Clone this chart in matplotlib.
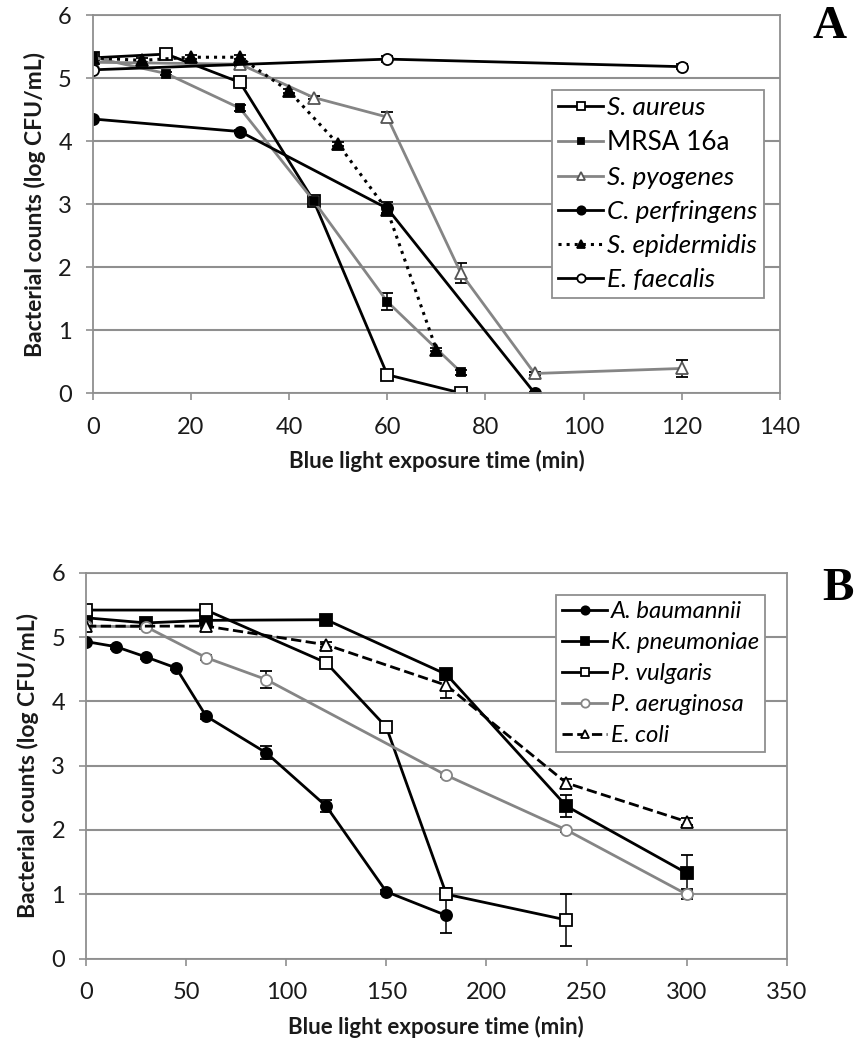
import matplotlib
matplotlib.use('Agg')
import matplotlib.pyplot as plt

plt.rcParams['font.family'] = ['Lato', 'DejaVu Sans']

# ---- panel A (gram positive) ----
sa_x = [0, 15, 30, 45, 60, 75]
sa_y = [5.32, 5.38, 4.93, 3.05, 0.29, 0.0]
sa_e = [0.03, 0.03, 0.04, 0.05, 0.05, 0.02]

mrsa_x = [0, 15, 30, 45, 60, 75]
mrsa_y = [5.33, 5.07, 4.52, 3.05, 1.45, 0.33]
mrsa_e = [0.03, 0.03, 0.05, 0.05, 0.13, 0.04]

spy_x = [0, 30, 45, 60, 75, 90, 120]
spy_y = [5.25, 5.22, 4.69, 4.38, 1.9, 0.31, 0.39]
spy_e = [0.03, 0.03, 0.03, 0.08, 0.16, 0.03, 0.13]

cpe_x = [0, 30, 60, 90]
cpe_y = [4.35, 4.15, 2.93, 0.0]
cpe_e = [0.03, 0.03, 0.1, 0.02]

sep_x = [0, 10, 20, 30, 40, 50, 60, 70]
sep_y = [5.32, 5.28, 5.33, 5.33, 4.79, 3.95, 2.9, 0.69]
sep_e = [0.03, 0.03, 0.03, 0.03, 0.03, 0.03, 0.05, 0.03]

efa_x = [0, 60, 120]
efa_y = [5.13, 5.3, 5.18]
efa_e = [0.03, 0.05, 0.04]

# ---- panel B (gram negative) ----
ab_x = [0, 15, 30, 45, 60, 90, 120, 150, 180]
ab_y = [4.93, 4.85, 4.69, 4.52, 3.77, 3.2, 2.37, 1.04, 0.67]
ab_e = [0.03, 0.03, 0.03, 0.03, 0.04, 0.1, 0.09, 0.03, 0.28]

kp_x = [0, 30, 60, 120, 180, 240, 300]
kp_y = [5.3, 5.22, 5.26, 5.27, 4.42, 2.37, 1.33]
kp_e = [0.03, 0.03, 0.03, 0.03, 0.09, 0.17, 0.28]

pv_x = [0, 60, 120, 150, 180, 240]
pv_y = [5.42, 5.42, 4.6, 3.6, 1.0, 0.6]
pv_e = [0.03, 0.03, 0.03, 0.03, 0.09, 0.41]

pa_x = [0, 30, 60, 90, 180, 240, 300]
pa_y = [5.17, 5.16, 4.68, 4.34, 2.85, 2.0, 1.0]
pa_e = [0.03, 0.03, 0.04, 0.13, 0.03, 0.03, 0.08]

ec_x = [0, 60, 120, 180, 240, 300]
ec_y = [5.17, 5.17, 4.88, 4.25, 2.73, 2.13]
ec_e = [0.03, 0.03, 0.04, 0.2, 0.06, 0.06]

gray = '#858585'
gridc = '#8f8f8f'

fig = plt.figure(figsize=(8.61, 10.5), dpi=100)
axA = fig.add_axes([0.1077, 0.6257, 0.7983, 0.36])
axB = fig.add_axes([0.0999, 0.0871, 0.8138, 0.3674])


def series(ax, x, y, e, label, color, marker, ms, mfc, mec, ls='-', lw=2.0, ecol='black'):
    ax.errorbar(x, y, yerr=e, color=color, ls=ls, lw=lw, marker=marker, ms=ms,
                mfc=mfc, mec=mec, mew=1.3, ecolor=ecol, elinewidth=1.1,
                capsize=4, capthick=1.1, label=label)


def style(ax, xmax, xstep):
    ax.set_ylim(0, 6)
    ax.set_xlim(0, xmax)
    ax.set_xticks(range(0, xmax + 1, xstep))
    ax.set_yticks(range(0, 7))
    ax.grid(axis='y', color=gridc, lw=1.5)
    ax.set_axisbelow(True)
    for s in ax.spines.values():
        s.set_color(gridc)
        s.set_linewidth(1.3)
    ax.tick_params(axis='both', colors=gridc, length=5, width=1.2, labelsize=17,
                   labelcolor='#1a1a1a')
    ax.tick_params(axis='x', pad=12)
    ax.tick_params(axis='y', pad=10)
    ax.set_ylabel('Bacterial counts (log CFU/mL)', fontsize=16.5, fontweight='bold',
                  color='#1a1a1a', labelpad=9)
    ax.set_xlabel('Blue light exposure time (min)', fontsize=16, fontweight='bold',
                  color='#1a1a1a', labelpad=9)


series(axA, sa_x, sa_y, sa_e, 'S. aureus', 'black', 's', 8, 'white', 'black')
series(axA, mrsa_x, mrsa_y, mrsa_e, 'MRSA 16a', gray, 's', 6, 'black', 'black')
series(axA, spy_x, spy_y, spy_e, 'S. pyogenes', gray, '^', 8.5, 'white', '#555555')
series(axA, cpe_x, cpe_y, cpe_e, 'C. perfringens', 'black', 'o', 8, 'black', 'black')
series(axA, sep_x, sep_y, sep_e, 'S. epidermidis', 'black', '^', 8, 'black', 'black', ls=':', lw=2.2)
series(axA, efa_x, efa_y, efa_e, 'E. faecalis', 'black', 'o', 8, 'white', 'black')
style(axA, 140, 20)

series(axB, ab_x, ab_y, ab_e, 'A. baumannii', 'black', 'o', 8, 'black', 'black')
series(axB, kp_x, kp_y, kp_e, 'K. pneumoniae', 'black', 's', 8, 'black', 'black')
series(axB, pv_x, pv_y, pv_e, 'P. vulgaris', 'black', 's', 8.5, 'white', 'black')
series(axB, pa_x, pa_y, pa_e, 'P. aeruginosa', gray, 'o', 8, 'white', gray)
series(axB, ec_x, ec_y, ec_e, 'E. coli', 'black', '^', 8, 'white', 'black', ls='--')
style(axB, 350, 50)

for ax, anchor, fs, hl, sp in [(axA, (0.668, 0.802), 18.8, 1.72, 0.42),
                               (axB, (0.671, 0.942), 17.2, 1.88, 0.42)]:
    h, l = ax.get_legend_handles_labels()
    h = [hh[0] for hh in h]
    leg = ax.legend(h, l, loc='upper left', bbox_to_anchor=anchor, borderaxespad=0,
                    fancybox=False, edgecolor=gridc, framealpha=1,
                    handlelength=hl, handletextpad=0.15, labelspacing=sp,
                    borderpad=0.25, markerscale=0.75, prop={'style': 'italic', 'size': fs})
    leg.get_frame().set_linewidth(1.3)
    for t in leg.get_texts():
        if t.get_text().startswith('MRSA'):
            t.set_style('normal')

fig.text(0.963, 0.974, 'A', family='Liberation Serif', fontweight='bold', fontsize=34,
         ha='center', va='center')
fig.text(0.973, 0.439, 'B', family='Liberation Serif', fontweight='bold', fontsize=34,
         ha='center', va='center')

fig.savefig('out.png', dpi=100)
